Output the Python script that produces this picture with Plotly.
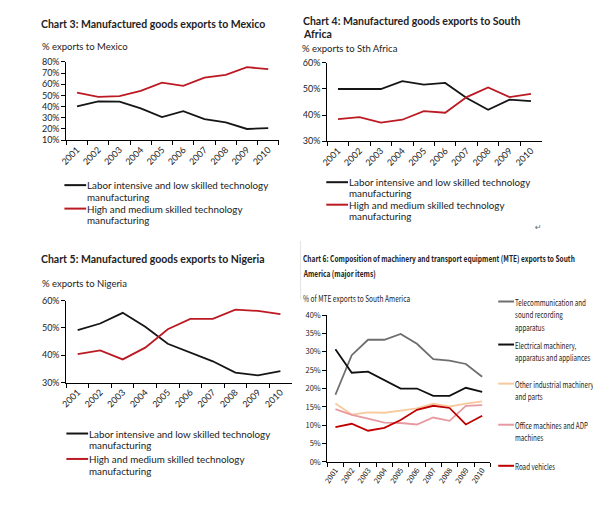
import plotly.graph_objects as go

# page body has an 8px default margin, so the figure is drawn 8px smaller
OFF = 8
W, H = 601 - OFF, 506 - OFF

years = ["2001", "2002", "2003", "2004", "2005", "2006", "2007", "2008", "2009", "2010"]

labor_lines = ["Labor intensive and low skilled technology", "manufacturing"]
high_lines = ["High and medium skilled technology", "manufacturing"]

mexico_labor = [40.3, 44.6, 44.5, 38.5, 30.6, 35.9, 28.8, 25.9, 20.0, 20.8]
mexico_high = [52.6, 48.8, 49.4, 54.1, 61.5, 58.5, 65.9, 68.5, 75.3, 73.5]

safrica_labor = [50.0, 50.0, 50.0, 53.0, 51.7, 52.3, 46.5, 42.0, 45.9, 45.3]
safrica_high = [38.4, 39.2, 37.1, 38.2, 41.5, 40.9, 46.9, 50.6, 46.9, 48.1]

nigeria_labor = [49.2, 51.6, 55.5, 50.4, 44.2, 41.0, 37.8, 33.7, 32.7, 34.2]
nigeria_high = [40.4, 41.8, 38.5, 42.8, 49.5, 53.3, 53.3, 56.7, 56.2, 55.0]

mte_lines = [
    ["Telecommunication and", "sound recording", "apparatus"],
    ["Electrical machinery,", "apparatus and appliances"],
    ["Other industrial machinery", "and parts"],
    ["Office machines and ADP", "machines"],
    ["Road vehicles"],
]
telecom = [18.3, 29.1, 33.3, 33.3, 34.9, 32.2, 28.0, 27.6, 26.7, 23.2]
electrical = [30.7, 24.3, 24.6, 22.4, 20.0, 20.0, 18.0, 18.0, 20.2, 19.1]
other_ind = [15.9, 12.9, 13.5, 13.4, 14.0, 14.6, 15.9, 15.1, 15.9, 16.5]
office = [14.4, 12.8, 11.8, 10.7, 10.6, 10.2, 12.1, 11.2, 15.3, 15.5]
road = [9.5, 10.4, 8.5, 9.3, 11.4, 14.2, 15.3, 14.7, 10.2, 12.6]
mte_series = [telecom, electrical, other_ind, office, road]

BLACK = "#151515"
RED = "#bb1a22"
mte_colors = ["#6e6e6e", "#101010", "#f8c99c", "#e89aa2", "#c00000"]

FONT = "Lato, Roboto, sans-serif"
NARROW = "Noto Sans CJK SC, Roboto, sans-serif"
CONDENSE = 0.75  # horizontal squeeze for the condensed face used in chart 6


def px(x):
    return (x - OFF) / W


def py(y):
    return 1 - (y - OFF) / H


fig = go.Figure()

panels = [
    dict(ax="", series=[mexico_labor, mexico_high], colors=[BLACK, RED],
         xdom=(60, 275), ydom=(57, 137), yr=(10, 80), dt=10, font=FONT, tangle=-45, fs=9),
    dict(ax="2", series=[safrica_labor, safrica_high], colors=[BLACK, RED],
         xdom=(324, 541), ydom=(58, 138), yr=(30, 60), dt=10, font=FONT, tangle=-45, fs=9),
    dict(ax="3", series=[nigeria_labor, nigeria_high], colors=[BLACK, RED],
         xdom=(60, 288), ydom=(301, 385), yr=(30, 60), dt=10, font=FONT, tangle=-45, fs=9),
    dict(ax="4", series=mte_series, colors=mte_colors,
         xdom=(324, 489), ydom=(316, 466), yr=(0, 40), dt=5, font=NARROW, tangle=-55, fs=7.5),
]
panels[0]["names"] = panels[1]["names"] = panels[2]["names"] = [labor_lines, high_lines]
panels[3]["names"] = mte_lines

for p in panels:
    for s, c, n in zip(p["series"], p["colors"], p["names"]):
        fig.add_trace(go.Scatter(x=years, y=s, mode="lines", name=" ".join(n),
                                 line=dict(color=c, width=1.8), showlegend=False,
                                 xaxis="x" + p["ax"], yaxis="y" + p["ax"], hoverinfo="skip"))
    fig.layout["xaxis" + p["ax"]] = dict(
        domain=[px(p["xdom"][0]), px(p["xdom"][1])], anchor="y" + p["ax"],
        type="category", range=[-0.5, len(years) - 0.5], tickson="boundaries",
        showline=True, linecolor="black", linewidth=1, ticks="outside", ticklen=4,
        tickcolor="black", tickangle=p["tangle"], showgrid=False, zeroline=False,
        tickfont=dict(family=p["font"], size=p["fs"], color="#222"), fixedrange=True)
    fig.layout["yaxis" + p["ax"]] = dict(
        domain=[py(p["ydom"][1]), py(p["ydom"][0])], anchor="x" + p["ax"],
        range=list(p["yr"]), dtick=p["dt"], tick0=0, ticksuffix="%",
        showline=True, linecolor="black", linewidth=1, ticks="outside", ticklen=4,
        tickcolor="black", showgrid=False, zeroline=False,
        tickfont=dict(family=p["font"], size=p["fs"], color="#222"), fixedrange=True)

ann = []
shapes = []
condensed_idx = []


def text(x, y, t, size, font=FONT, bold=False, color="#222", condensed=False):
    if bold:
        t = "<b>" + t + "</b>"
    if condensed:
        condensed_idx.append(len(ann))
    ann.append(dict(x=px(x - 2), y=py(y), xref="paper", yref="paper", text=t, showarrow=False,
                    xanchor="left", yanchor="middle", align="left", borderpad=0,
                    font=dict(family=font, size=size, color=color)))


def legend_entry(x0, x1, y, color, lines, size, spacing, font=FONT, condensed=False):
    shapes.append(dict(type="line", xref="paper", yref="paper", x0=px(x0), x1=px(x1),
                       y0=py(y), y1=py(y), line=dict(color=color, width=2)))
    for i, ln in enumerate(lines):
        text(x1 + 2, y + i * spacing, ln, size, font=font, condensed=condensed)


# Chart 3
text(35, 18, "Chart 3: Manufactured goods exports to Mexico", 10.5, bold=True)
text(36, 41, "% exports to Mexico", 9.5)
legend_entry(58, 80, 183, BLACK, labor_lines, 9.8, 12)
legend_entry(58, 80, 207, RED, high_lines, 9.8, 12)

# Chart 4
text(300, 15, "Chart 4: Manufactured goods exports to South", 10.5, bold=True)
text(300, 28, "Africa", 10.5, bold=True)
text(299, 43, "% exports to Sth Africa", 9.5)
legend_entry(323, 345, 180, BLACK, labor_lines, 9.8, 11.5)
legend_entry(323, 345, 203, RED, high_lines, 9.8, 11.5)

# Chart 5
text(35, 259, "Chart 5: Manufactured goods exports to Nigeria", 10.5, bold=True)
text(36, 284, "% exports to Nigeria", 9.5)
legend_entry(60, 82, 437, BLACK, labor_lines, 9.8, 12)
legend_entry(60, 82, 463, RED, high_lines, 9.8, 12)

# Chart 6
text(300, 258, "Chart 6: Composition of machinery and transport equipment (MTE) exports to South", 8.8,
     font=NARROW, bold=True, condensed=True)
text(300, 273, "America (major items)", 8.8, font=NARROW, bold=True, condensed=True)
text(300, 299, "% of MTE exports to South America", 8.8, font=NARROW, condensed=True)
for yy, c, n in zip([302, 346, 386, 428, 470], mte_colors, mte_lines):
    legend_entry(497, 513, yy, c, n, 8.4, 13, font=NARROW, condensed=True)

# small return mark
ann.append(dict(x=px(543), y=py(226), xref="paper", yref="paper", text="↵", showarrow=False,
                font=dict(family="DejaVu Sans", size=8, color="#666")))

# clip left edge of chart 4 image
shapes.append(dict(type="rect", xref="paper", yref="paper", x0=px(292), x1=px(299.5), y0=py(150),
                   y1=py(8), fillcolor="white", line=dict(width=0), layer="above"))
shapes.append(dict(type="line", xref="paper", yref="paper", x0=px(297), x1=px(297), y0=py(240),
                   y1=py(300), line=dict(color="#e4e4e4", width=1)))

fig.update_layout(width=W, height=H, margin=dict(l=0, r=0, t=0, b=0),
                  paper_bgcolor="white", plot_bgcolor="white",
                  annotations=ann, shapes=shapes, showlegend=False)

# squeeze chart-6 texts horizontally (condensed face), keeping their left edge in place
condense_js = """
var gd = document.getElementById('{plot_id}');
var idx = %s;
var s = %s;
gd.querySelectorAll('g.annotation').forEach(function(g) {
  var i = +g.getAttribute('data-index');
  if (idx.indexOf(i) >= 0) {
    var t = g.querySelector('text.annotation-text');
    if (t) {
      var bb = t.getBBox();
      var w = bb.width;
      t.setAttribute('transform', 'translate(' + (bb.x * (1 - s)).toFixed(2) + ',0) scale(' + s + ',1)');
      g.querySelectorAll('rect').forEach(function(r) {
        var rw = parseFloat(r.getAttribute('width'));
        if (!isNaN(rw)) { r.setAttribute('width', Math.max(1, rw - w * (1 - s)).toFixed(2)); }
      });
    }
  }
});
""" % (str(condensed_idx), CONDENSE)

fig.write_html("out.html", post_script=condense_js)
